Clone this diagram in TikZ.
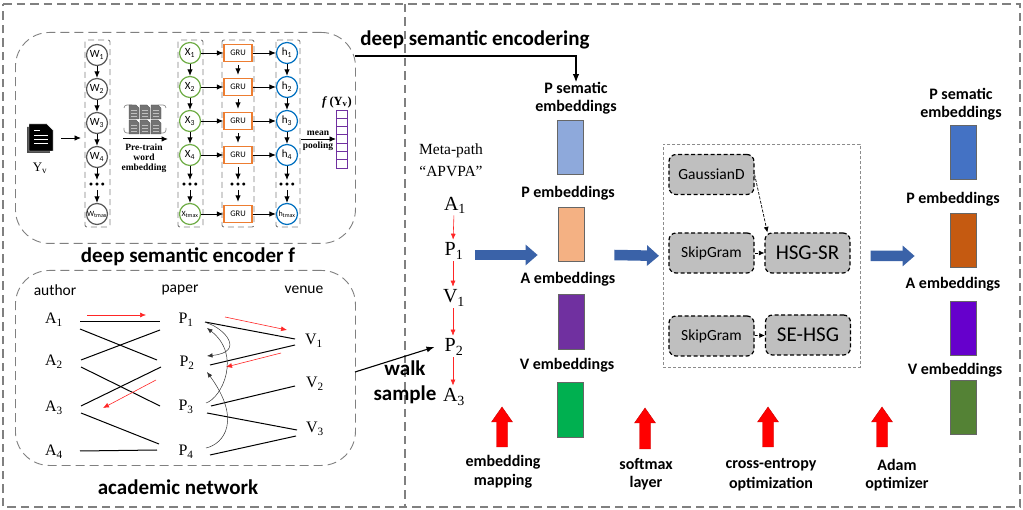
\documentclass[tikz,border=0pt]{standalone}
\usepackage{fontspec}
\setmainfont{Liberation Serif}
\newfontfamily\cbr{Carlito}
\usetikzlibrary{arrows.meta,calc}
\definecolor{dashgray}{HTML}{808080}
\definecolor{cgreen}{HTML}{70AD47}
\definecolor{cblue}{HTML}{0070C0}
\definecolor{corange}{HTML}{ED7D31}
\definecolor{cpurple}{HTML}{7030A0}
\definecolor{cshaft}{HTML}{3A62A8}
\definecolor{b1col}{HTML}{8EA9DB}
\definecolor{b2col}{HTML}{F4B183}
\definecolor{b4col}{HTML}{00B050}
\definecolor{c1col}{HTML}{4472C4}
\definecolor{c2col}{HTML}{C55A11}
\definecolor{c3col}{HTML}{6600CC}
\definecolor{c4col}{HTML}{548235}
\newcommand{\fsz}[1]{\fontsize{#1}{#1}\selectfont}
\tikzset{
  x=1pt,y=-1pt,
  outerdash/.style={draw=dashgray,line width=1.8pt,dash pattern=on 8.5pt off 5pt},
  roundbox/.style={draw=dashgray,line width=.9pt,dash pattern=on 9pt off 5pt,rounded corners=34pt},
  coldash/.style={draw=dashgray,line width=.9pt,dash pattern=on 6pt off 4pt,rounded corners=2pt},
  blk/.style={-{Latex[length=6.5pt,width=5.5pt]},line width=.9pt,black},
  wnode/.style={circle,draw=#1,line width=1.2pt,fill=white,minimum size=21pt,inner sep=0pt,font=\cbr\fsz{11}},
  wsmall/.style={circle,draw=#1,line width=1.2pt,fill=white,minimum size=21pt,inner sep=0pt,font=\cbr\fsz{8}},
  grubox/.style={rectangle,draw=corange,line width=1.2pt,fill=white,minimum width=28pt,minimum height=17pt,inner sep=0pt,font=\cbr\fsz{8.5}},
  dotsn/.style={inner sep=0pt,font=\cbr\bfseries\fsz{7}},
  serlab/.style={inner sep=0pt,font=\fsz{16}},
  sanslab/.style={inner sep=0pt,font=\cbr\fsz{15.5}},
  boldlab/.style={inner sep=0pt,font=\cbr\bfseries\fsz{16}},
  bigbold/.style={inner sep=0pt,font=\cbr\bfseries\fsz{21}},
  tinyserif/.style={inner sep=0pt,font=\bfseries\fsz{9.5}},
  metalab/.style={inner sep=0pt,font=\fsz{20}},
  edge/.style={line width=1pt,black},
  redarr/.style={-{Latex[length=6pt,width=5pt]},line width=.6pt,red!85!white},
  thincurve/.style={-{Latex[length=5.5pt,width=4.5pt]},line width=.5pt,black!80},
  bluearr/.style={line width=10.5pt,draw=cshaft,-{Triangle[length=12pt,width=20pt]}},
  bar/.style={draw=black!60,line width=.7pt,minimum width=26pt,inner sep=0pt},
  proc/.style={draw=black,fill=black!25,line width=1.2pt,dash pattern=on 4pt off 2.5pt,rounded corners=7pt,minimum width=85pt,minimum height=40pt,inner sep=0pt,font=\cbr\fsz{15.5}},
  procbig/.style={proc,font=\cbr\fsz{21}},
  dashedarr/.style={-{Latex[length=5.5pt,width=5pt]},line width=.7pt,black,dash pattern=on 3pt off 1.5pt},
}
\newcommand{\uparr}[3]{\draw[fill=red,draw=red!80!black,line width=.4pt]
  (#1-5.5,#3)--(#1+5.5,#3)--(#1+5.5,#2+15)--(#1+10.5,#2+15)--(#1,#2)--(#1-10.5,#2+15)--(#1-5.5,#2+15)--cycle;}
\newcommand{\smalldoc}[2]{\fill[black!55,draw=black!70,line width=.3pt] (#1-5,#2-7)--(#1+2,#2-7)--(#1+5,#2-4)--(#1+5,#2+7)--(#1-5,#2+7)--cycle;
  \draw[black!25,line width=.5pt] (#1-3,#2-2)--(#1+3,#2-2) (#1-3,#2+1)--(#1+3,#2+1) (#1-3,#2+4)--(#1+3,#2+4);}
\begin{document}
\begin{tikzpicture}
\useasboundingbox (0,0) rectangle (1023,510);
% outer frames
\draw[outerdash] (3,4) -- (1020,4) -- (1020,507) -- (3,507) -- cycle;
\draw[outerdash] (405,4) -- (405,507);
% rounded boxes
\node[roundbox,minimum width=340pt,minimum height=211pt,anchor=north west,inner sep=0pt] (enc) at (15,32) {};
\node[roundbox,minimum width=340pt,minimum height=195pt,anchor=north west,inner sep=0pt] (acad) at (15,270) {};
\node[bigbold] (enclab) at (188,257) {deep semantic encoder f};
\node[bigbold] (acadlab) at (178,487) {academic network};
% column dashed boxes
\draw[coldash] (85,40) rectangle (110,227);
\draw[coldash] (178,40) rectangle (203,227);
\draw[coldash] (222,40) rectangle (254,227);
\draw[coldash] (276,40) rectangle (300,227);
% document icon
\fill[black!70] (27,127) -- (47,127) -- (50,153) -- (27,153) -- cycle;
\fill[black,draw=white,line width=.4pt] (29,124) -- (47,124) -- (53,130) -- (53,151) -- (29,151) -- cycle;
\draw[white,line width=.7pt] (34,130)--(40,130) (34,135)--(48,135) (34,139)--(48,139) (34,143)--(48,143);
\node[inner sep=0pt,font=\fsz{13}] (yv) at (40,168) {Y\textsubscript{v}};
% pre-train icon
\draw[black!45,line width=.7pt,rounded corners=3pt] (124,108) -- (124,105) -- (132,105) (158,105) -- (166,105) -- (166,108) (124,128)--(124,133)--(132,133) (158,133)--(166,133)--(166,128);
\smalldoc{134}{112}\smalldoc{145}{112}\smalldoc{156}{112}
\smalldoc{134}{127}\smalldoc{145}{127}\smalldoc{156}{127}
\node[tinyserif] (pt1) at (144,147) {Pre-train};
\node[tinyserif] (pt2) at (144,157) {word};
\node[tinyserif] (pt3) at (144,168) {embedding};
% W, X, GRU, h columns
\foreach \i/\y in {1/55,2/89,3/123,4/157}{
  \node[wnode=black!65] (W\i) at (97,\y) {W\textsubscript{\i}};
}
\foreach \i/\y in {1/53,2/87,3/121,4/155}{
  \node[wnode=cgreen] (X\i) at (190,\y) {X\textsubscript{\i}};
  \node[grubox] (G\i) at (238,\y) {GRU};
  \node[wnode=cblue] (H\i) at (287,\y) {h\textsubscript{\i}};
  \draw[blk] (X\i) -- (G\i);
  \draw[blk] (G\i) -- (H\i);
}
\node[wsmall=black!65] (W5) at (97,214) {W\textsubscript{tmax}};
\node[wsmall=cgreen] (X5) at (190,214) {X\textsubscript{tmax}};
\node[grubox] (G5) at (238,214) {GRU};
\node[wsmall=cblue] (H5) at (287,214) {h\textsubscript{tmax}};
\draw[blk] (X5) -- (G5);
\draw[blk] (G5) -- (H5);
\node[dotsn] (Wd) at (97,185) {\textbullet\,\,\textbullet\,\,\textbullet};
\node[dotsn] (Xd) at (190,185) {\textbullet\,\,\textbullet\,\,\textbullet};
\node[dotsn] (Gd) at (238,185) {\textbullet\,\,\textbullet\,\,\textbullet};
\node[dotsn] (Hd) at (287,185) {\textbullet\,\,\textbullet\,\,\textbullet};
\foreach \c in {W,X,H}{
  \draw[blk] (\c1) -- (\c2);
  \draw[blk] (\c2) -- (\c3);
  \draw[blk] (\c3) -- (\c4);
  \draw[blk,shorten >=3pt] (\c4) -- (\c d);
  \draw[blk,shorten <=3pt] (\c d) -- (\c5);
}
\foreach \a/\b in {G1/G2,G2/G3,G3/G4,G4/Gd,Gd/G5}{
  \draw[blk,shorten <=3pt,shorten >=3pt] (\a) -- (\b);
}
\draw[blk] (61,138) -- (81,138);
\draw[blk,line width=1pt] (123,139) -- (168,139);
% purple strip
\foreach \k in {0,...,6}{
  \draw[draw=cpurple,line width=.9pt] (336,110+\k*8.3) rectangle (347,110+\k*8.3+8.3);
}
\node[inner sep=0pt,font=\bfseries\fsz{12.5}] (fy) at (337,102) {\textit{f}\,(Y\textsubscript{v})};
\draw[blk] (301,139) -- (336,139);
\node[tinyserif] (mean) at (318,133) {mean};
\node[tinyserif] (pool) at (318,146) {pooling};
% academic network
\node[sanslab] (author) at (55,290) {author};
\node[sanslab] (paper) at (180,290) {paper};
\node[sanslab] (venue) at (304,290) {venue};
\node[serlab] (A1) at (54,320) {A\textsubscript{1}};
\node[serlab] (A2) at (54,362) {A\textsubscript{2}};
\node[serlab] (A3) at (54,408) {A\textsubscript{3}};
\node[serlab] (A4) at (54,452) {A\textsubscript{4}};
\node[serlab] (P1) at (186,320) {P\textsubscript{1}};
\node[serlab] (P2) at (187,363) {P\textsubscript{2}};
\node[serlab] (P3) at (186,407) {P\textsubscript{3}};
\node[serlab] (P4) at (186,452) {P\textsubscript{4}};
\node[serlab] (V1) at (314,341) {V\textsubscript{1}};
\node[serlab] (V2) at (315,384) {V\textsubscript{2}};
\node[serlab] (V3) at (315,429) {V\textsubscript{3}};
\draw[edge] ([shift={(26,2)}]A1.center) -- ([shift={(-26,2)}]P1.center);
\draw[edge] ([shift={(26,9)}]A1.center) -- ([shift={(-30,-3)}]P2.center);
\draw[edge] ([shift={(27,-2)}]A2.center) -- ([shift={(-26,10)}]P1.center);
\draw[edge] ([shift={(27,5)}]A2.center) -- ([shift={(-26,-1)}]P3.center);
\draw[edge] ([shift={(27,-2)}]A3.center) -- ([shift={(-26,4)}]P2.center);
\draw[edge] ([shift={(27,5)}]A3.center) -- ([shift={(-27,-8)}]P4.center);
\draw[edge] ([shift={(26,-1)}]A4.center) -- ([shift={(-29,-2)}]P4.center);
\draw[edge] ([shift={(19,2)}]P1.center) -- ([shift={(-19,-2)}]V1.center);
\draw[edge] ([shift={(23,2)}]P2.center) -- ([shift={(-19,4)}]V1.center);
\draw[edge] ([shift={(25,-1)}]P3.center) -- ([shift={(-20,2)}]V2.center);
\draw[edge] ([shift={(21,6)}]P3.center) -- ([shift={(-18,1)}]V3.center);
\draw[edge] ([shift={(24,3)}]P4.center) -- ([shift={(-19,7)}]V3.center);
\draw[redarr] ([shift={(33,-5)}]A1.center) -- ([shift={(-40,-5)}]P1.center);
\draw[redarr] ([shift={(39,-3)}]P1.center) -- ([shift={(-27,-11)}]V1.center);
\draw[redarr] ([shift={(-33,12)}]V1.center) -- ([shift={(39,4)}]P2.center);
\draw[redarr] ([shift={(-30,-27)}]P3.center) -- ([shift={(49,0)}]A3.center);
\draw[thincurve] ([shift={(20,-4)}]P3.center) .. controls (222,398) and (242,355) .. ([shift={(21,8)}]P1.center);
\draw[thincurve] ([shift={(21,3)}]P1.center) .. controls (224,328) and (246,352) .. ([shift={(20,-7)}]P2.center);
\draw[thincurve] ([shift={(20,-4)}]P4.center) .. controls (224,444) and (242,420) .. ([shift={(20,9)}]P2.center);
% deep semantic connector
\node[bigbold] (dse) at (475,40) {deep semantic encodering};
\coordinate (encout) at (355,56);
\node[boldlab] (ps1) at (576,88) {P sematic};
\node[boldlab] (ps2) at (576,107) {embeddings};
\draw[-{Latex[length=8pt,width=6.5pt]},line width=1.1pt,black] (encout) -| (ps1.north);
% walk
\node[metalab] (MA1) at (455,205) {A\textsubscript{1}};
\node[metalab] (MP1) at (454,251) {P\textsubscript{1}};
\node[metalab] (MV1) at (454,298) {V\textsubscript{1}};
\node[metalab] (MP2) at (454,347) {P\textsubscript{2}};
\node[metalab] (MA3) at (454,397) {A\textsubscript{3}};
\foreach \a/\b in {MA1/MP1,MP1/MV1,MV1/MP2,MP2/MA3}{
  \draw[redarr,shorten <=2pt,shorten >=3pt] ([xshift=-1pt]\a.south) -- ([xshift=-1pt]\b.north);
}
\node[inner sep=0pt,font=\fsz{15.5}] (m1) at (451,151) {Meta-path};
\node[inner sep=0pt,font=\fsz{15.5}] (m2) at (451,171) {“APVPA”};
\coordinate (acadout) at (355,372);
\draw[-{Latex[length=8pt,width=6pt]},line width=1.1pt,black] (acadout) -- ([xshift=-10pt]MP2.west);
\node[bigbold] (walk) at (405,368) {walk};
\node[bigbold] (sample) at (405,395) {sample};
% embedding bars
\node[bar,fill=b1col,minimum height=54pt] (b1) at (570,147) {};
\node[bar,fill=b2col,minimum height=54pt] (b2) at (571,234) {};
\node[bar,fill=cpurple,minimum height=55pt] (b3) at (571.5,321.5) {};
\node[bar,fill=b4col,minimum height=55pt] (b4) at (570.5,409.5) {};
\node[boldlab] (l2) at (568,193) {P embeddings};
\node[boldlab] (l3) at (568,279) {A embeddings};
\node[boldlab] (l4) at (567,365) {V embeddings};
\node[bar,fill=c1col,minimum height=54pt] (c1) at (963,152) {};
\node[bar,fill=c2col,minimum height=54pt] (c2) at (963,240) {};
\node[bar,fill=c3col,minimum height=54pt] (c3) at (963,328) {};
\node[bar,fill=c4col,minimum height=54pt] (c4) at (963,407) {};
\node[boldlab] (r1a) at (961,94) {P sematic};
\node[boldlab] (r1b) at (961,113) {embeddings};
\node[boldlab] (r2) at (953,199) {P embeddings};
\node[boldlab] (r3) at (953,284) {A embeddings};
\node[boldlab] (r4) at (955,370) {V embeddings};
% process box
\node[draw=black!45,line width=.7pt,dash pattern=on 3pt off 2pt,minimum width=197pt,minimum height=223pt,inner sep=0pt,anchor=north west] (pbox) at (663,144) {};
\node[proc] (gd) at (711.5,174.5) {GaussianD};
\node[proc] (sg1) at (711.5,253) {SkipGram};
\node[procbig] (hsg) at (807.5,253) {HSG-SR};
\node[proc] (sg2) at (711.5,336) {SkipGram};
\node[procbig] (se) at (808,335) {SE-HSG};
\draw[dashedarr] (gd.east) -- ([shift={(3,0)}]hsg.north west);
\draw[dashedarr] (sg1) -- (hsg);
\draw[dashedarr] (sg2) -- (se);
% blue arrows
\draw[bluearr] ($(MP1.center)+(21,4)$) -- ($(b2.west)+(-20,21)$);
\draw[bluearr] ($(b2.east)+(30,21)$) -- ($(pbox.west)+(-4,0)$);
\draw[bluearr] ($(pbox.east)+(10,0)$) -- ($(c2.west)+(-35,16)$);
% red up arrows
\uparr{502}{407}{447}
\uparr{645}{408}{449}
\uparr{768}{407}{447}
\uparr{882}{407}{447}
\node[boldlab] (t1) at (503,462) {embedding};
\node[boldlab] (t2) at (503,481) {mapping};
\node[boldlab] (t3) at (646,464) {softmax};
\node[boldlab] (t4) at (646,483) {layer};
\node[boldlab] (t5) at (771,465) {cross-entropy};
\node[boldlab] (t6) at (771,484) {optimization};
\node[boldlab] (t7) at (897,465) {Adam};
\node[boldlab] (t8) at (897,484) {optimizer};
\end{tikzpicture}
\end{document}
